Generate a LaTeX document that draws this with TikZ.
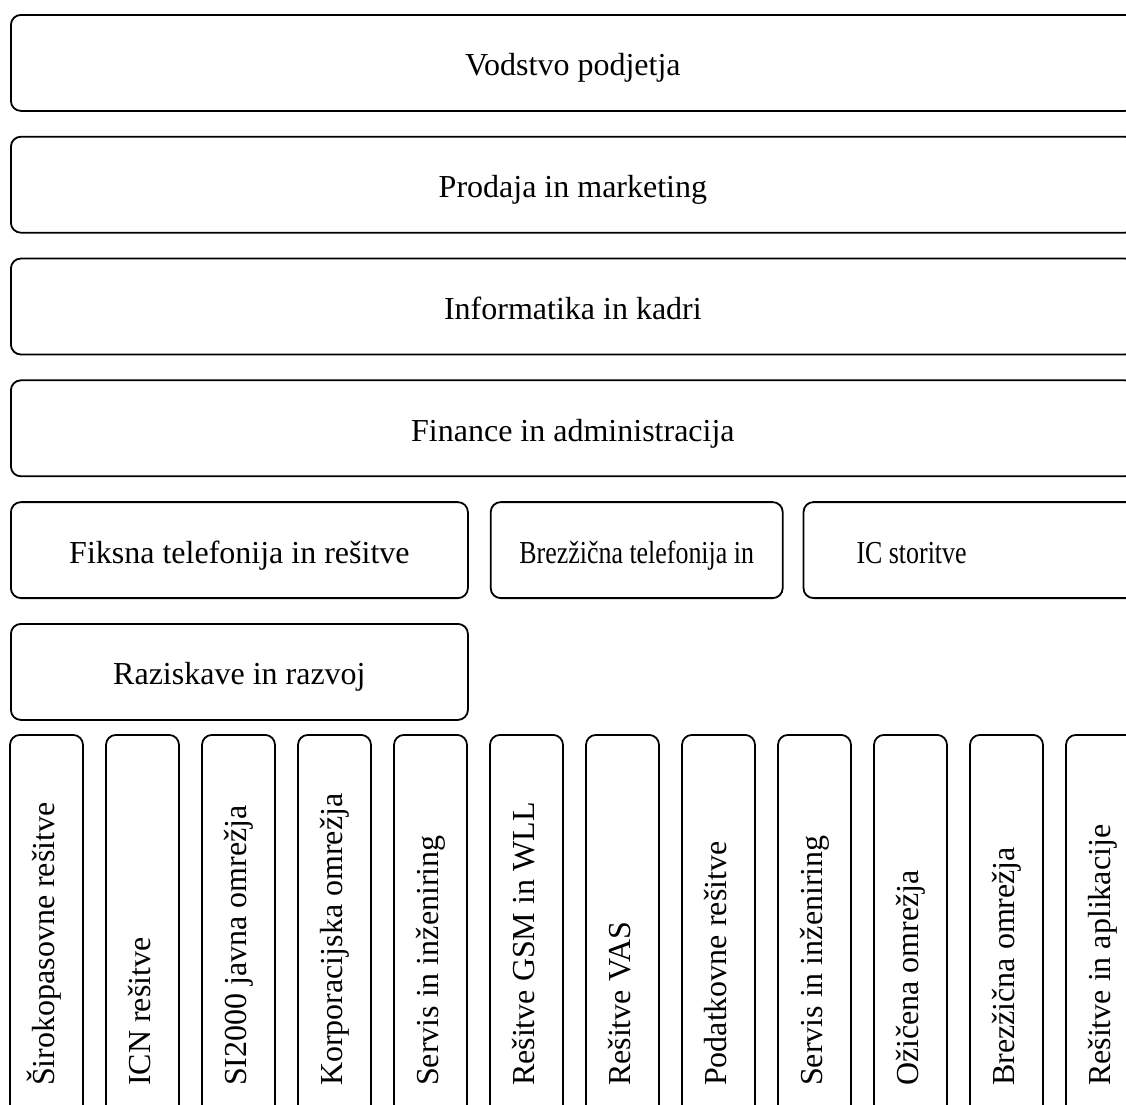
\documentclass[tikz,border=0pt]{standalone}
\usepackage{fontspec}
\setmainfont{Liberation Serif}
\usepackage{tikz}
\usetikzlibrary{positioning}

\newcommand{\narrowtext}[1]{\scalebox{0.81}[1]{#1}}

\begin{document}
\begin{tikzpicture}[
  x=1pt, y=-1pt,
  node distance=24pt and 21pt,
  box/.style={draw, line width=1.8pt, rounded corners=10pt, minimum height=96pt, inner sep=0pt,
    font=\fontsize{32}{38}\selectfont, text height=32pt, text depth=6pt},
  widebox/.style={box, minimum width=1124pt},
  unitbox/.style={box, rotate=90, anchor=east, minimum width=390pt, minimum height=73pt,
    text width=312pt, align=flush left, text height=22pt, text depth=6pt}
]
\useasboundingbox (0,0) rectangle (1126,1104);
\clip (0,0) rectangle (1126,1104);

% company-wide functions
\node[widebox, anchor=north west] (vodstvo) at (10,14) {Vodstvo podjetja};
\node[widebox, below=of vodstvo] (prodaja) {Prodaja in marketing};
\node[widebox, below=of prodaja] (informatika) {Informatika in kadri};
\node[widebox, below=of informatika] (finance) {Finance in administracija};

% divisions
\node[box, minimum width=457pt, below=24pt of finance.south west, anchor=north west] (fiksna) {Fiksna telefonija in rešitve};
\node[box, minimum width=292pt, right=of fiksna] (brezzicna) {\narrowtext{Brezžična telefonija in}};
\node[box, minimum width=340pt, text width=234pt, align=flush left, right=19pt of brezzicna] (ic) {\narrowtext{IC storitve}};
\node[box, minimum width=457pt, below=of fiksna] (raziskave) {Raziskave in razvoj};

% units
\node[unitbox] (sirokopasovne) at (46.5,734) {Širokopasovne rešitve};
\node[unitbox] (icn) at (142.5,734) {ICN rešitve};
\node[unitbox] (si2000) at (238.5,734) {SI2000 javna omrežja};
\node[unitbox] (korporacijska) at (334.5,734) {Korporacijska omrežja};
\node[unitbox] (servisF) at (430.5,734) {Servis in inženiring};
\node[unitbox] (gsm) at (526.5,734) {Rešitve GSM in WLL};
\node[unitbox] (vas) at (622.5,734) {Rešitve VAS};
\node[unitbox] (podatkovne) at (718.5,734) {Podatkovne rešitve};
\node[unitbox] (servisB) at (814.5,734) {Servis in inženiring};
\node[unitbox] (ozicena) at (910.5,734) {Ožičena omrežja};
\node[unitbox] (brezzicnaomr) at (1006.5,734) {Brezžična omrežja};
\node[unitbox] (aplikacije) at (1102.5,734) {Rešitve in aplikacije};
\end{tikzpicture}
\end{document}
